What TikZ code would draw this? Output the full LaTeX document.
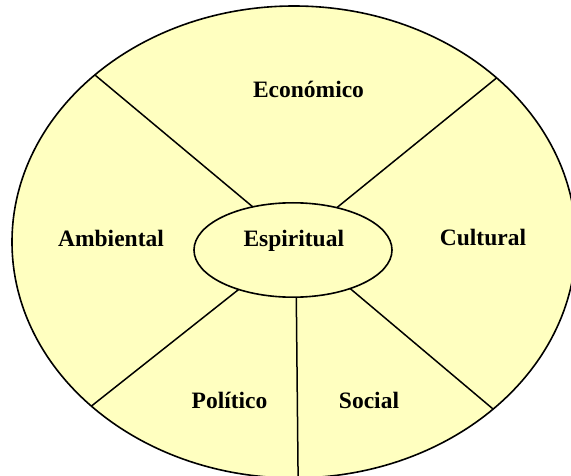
\documentclass[tikz,border=0pt]{standalone}
\usepackage{fontspec}
\setmainfont{Liberation Serif}
\usetikzlibrary{shapes.geometric}
\definecolor{paleyellow}{HTML}{FFFFC0}
\tikzset{
  region/.style={ellipse, draw=black, fill=paleyellow, line width=1.6pt, inner sep=0pt, outer sep=0pt},
  divider/.style={draw=black, line width=1.5pt},
  label/.style={anchor=base, inner sep=0pt, font=\fontsize{23.5}{28}\selectfont\bfseries}
}
\begin{document}
\begin{tikzpicture}[x=1pt,y=-1pt]
\useasboundingbox (0,0) rectangle (571,476);
\node[region, minimum width=564pt, minimum height=472pt] (outer) at (294,242) {};
\node[region, minimum width=198pt, minimum height=94.4pt] (inner) at (293,250) {};
\draw[divider] (outer.140.3) -- (inner.133.7);
\draw[divider] (outer.39.5) -- (inner.44.3);
\draw[divider] (outer.219.9) -- (inner.216.4);
\draw[divider] (outer.320.2) -- (inner.326.3);
\draw[divider] (outer.271) -- (inner.274);
\node[label] (econ) at (308.5,98) {Económico};
\node[label] (amb) at (111,246.7) {Ambiental};
\node[label] (esp) at (293.8,246.7) {Espiritual};
\node[label] (cult) at (483,246) {Cultural};
\node[label] (pol) at (229.5,408.7) {Político};
\node[label] (soc) at (369,408.7) {Social};
\end{tikzpicture}
\end{document}
